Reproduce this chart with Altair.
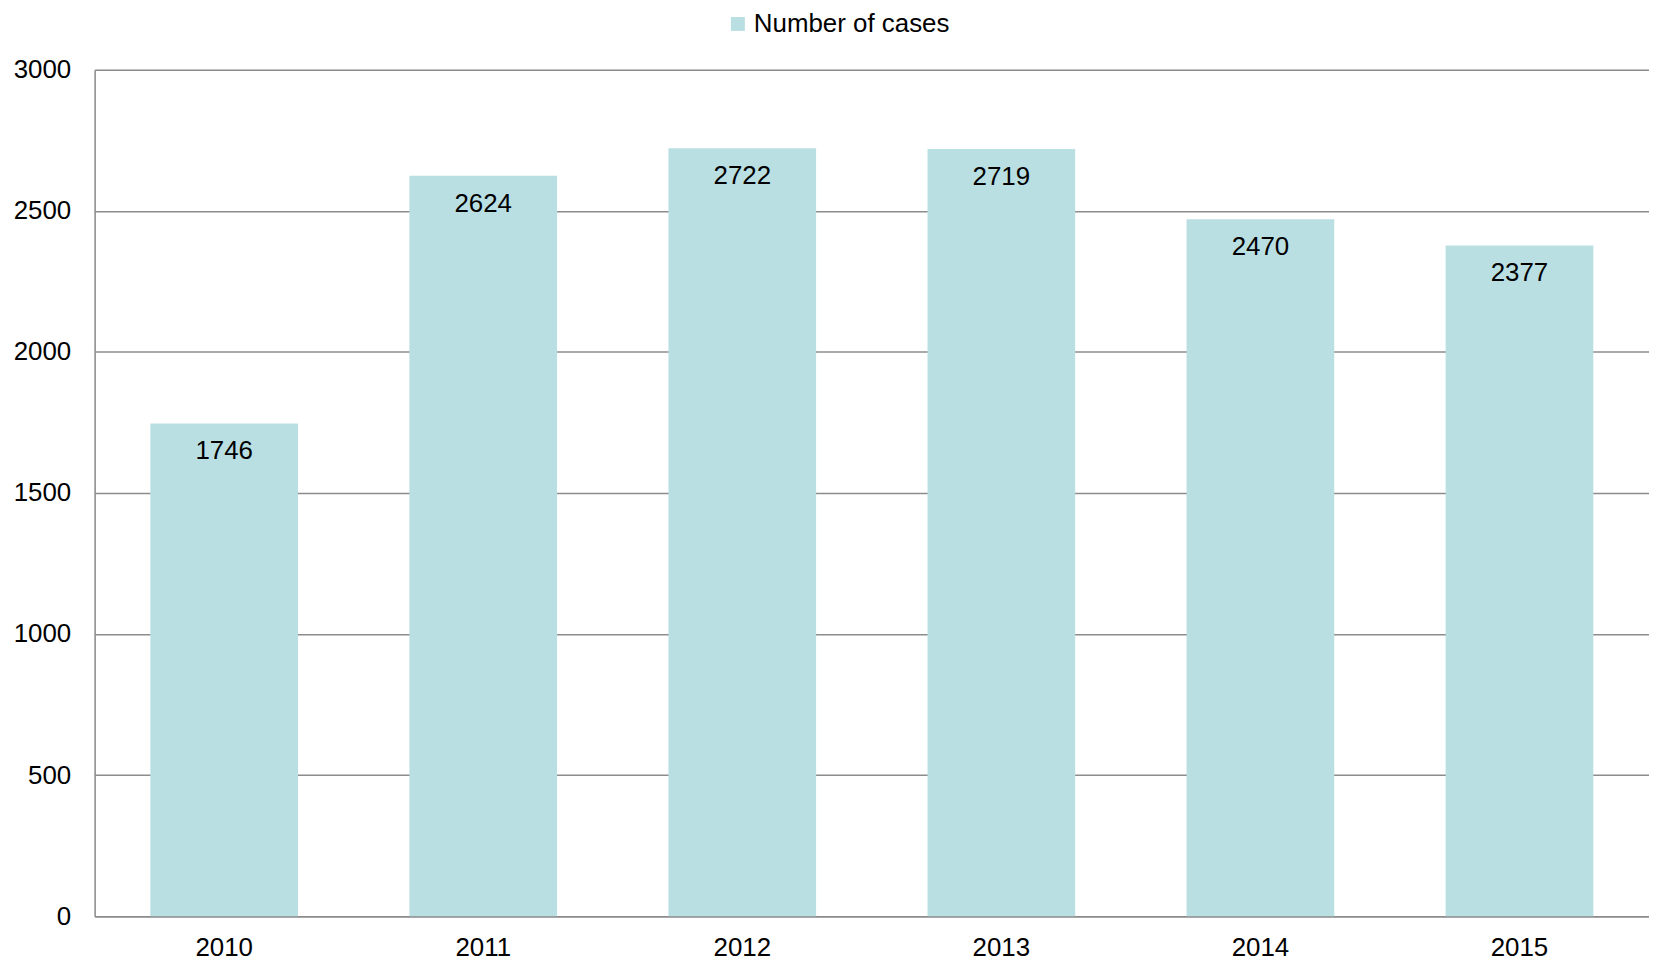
import altair as alt
import pandas as pd

years = ["2010", "2011", "2012", "2013", "2014", "2015"]
cases = [1746, 2624, 2722, 2719, 2470, 2377]
series_name = "Number of cases"

df = pd.DataFrame({"year": years, "cases": cases, "series": [series_name] * len(years)})

FONT = "Liberation Sans"
FS = 26
BAR = "#b9dfe3"
GRID = "#8c8c8c"

base = alt.Chart(df)

bars = base.mark_bar(color=BAR).encode(
    x=alt.X("year:N", title=None, sort=years,
            scale=alt.Scale(paddingInner=0.43, paddingOuter=0.215),
            axis=alt.Axis(labelAngle=0, labelFontSize=FS, labelFont=FONT, labelColor="#000000",
                          ticks=False, labelPadding=32, labelBaseline="middle",
                          domainColor=GRID, domainWidth=1.5)),
    y=alt.Y("cases:Q", title=None,
            scale=alt.Scale(domain=[0, 3000], nice=False),
            axis=alt.Axis(values=[0, 500, 1000, 1500, 2000, 2500, 3000], format="d",
                          labelFontSize=FS, labelFont=FONT, labelColor="#000000", ticks=False,
                          labelPadding=24, grid=True, gridColor=GRID, gridWidth=1.5,
                          domainColor=GRID, domainWidth=1.5)),
    fill=alt.Fill("series:N", scale=alt.Scale(range=[BAR]),
                  legend=alt.Legend(title=None, orient="none", legendX=633, legendY=-59,
                                    symbolType="square", symbolSize=196, symbolStrokeWidth=0,
                                    labelFontSize=FS, labelFont=FONT, labelColor="#000000",
                                    labelOffset=3, labelLimit=0, direction="horizontal")),
)

labels = base.mark_text(baseline="middle", dy=28, fontSize=FS, font=FONT, color="#000000").encode(
    x=alt.X("year:N", sort=years),
    y=alt.Y("cases:Q"),
    text=alt.Text("cases:Q"),
)

chart = (bars + labels).properties(
    width=1561, height=850,
    padding={"left": 87, "top": 60, "right": 0, "bottom": 42},
    autosize=alt.AutoSizeParams(type="none"),
).configure_view(stroke=None).configure(background="#ffffff")

chart.save("out.html", embed_options={"renderer": "svg", "actions": False})
